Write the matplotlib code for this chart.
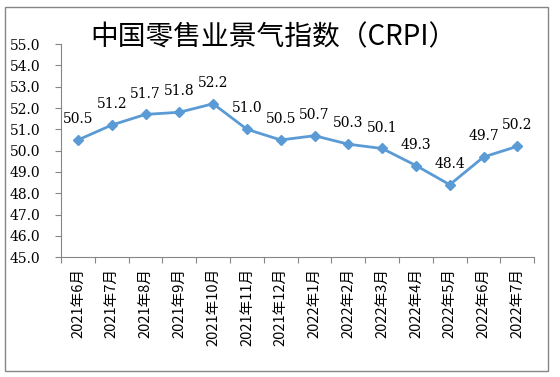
import matplotlib
matplotlib.use('Agg')
import matplotlib.pyplot as plt
from matplotlib.patches import Rectangle

months = ['2021年6月', '2021年7月', '2021年8月', '2021年9月', '2021年10月',
          '2021年11月', '2021年12月', '2022年1月', '2022年2月', '2022年3月',
          '2022年4月', '2022年5月', '2022年6月', '2022年7月']
crpi = [50.5, 51.2, 51.7, 51.8, 52.2, 51.0, 50.5, 50.7, 50.3, 50.1,
        49.3, 48.4, 49.7, 50.2]
yticks = [45.0, 46.0, 47.0, 48.0, 49.0, 50.0, 51.0, 52.0, 53.0, 54.0, 55.0]

plt.rcParams['font.family'] = ['Noto Sans CJK SC', 'DejaVu Sans']
serif = ['DejaVu Serif', 'Noto Sans CJK SC']

fig = plt.figure(figsize=(5.6, 3.77), dpi=100)
ax = fig.add_axes([0.109, 0.318, 0.845, 0.565])

x = list(range(len(crpi)))
ax.plot(x, crpi, color='#5b9bd5', lw=2, marker='D', ms=5, zorder=3)
for xi, v in zip(x, crpi):
    ax.annotate('%.1f' % v, (xi, v), xytext=(0, 10), textcoords='offset points',
                ha='center', va='bottom', fontsize=10, family=serif)

ax.set_xlim(-0.5, len(crpi) - 0.5)
ax.set_ylim(45, 55)
ax.set_yticks(yticks)
ax.set_yticklabels(['%.1f' % t for t in yticks], family=serif, fontsize=10)
ax.set_xticks([i - 0.5 for i in range(len(crpi) + 1)])
ax.set_xticklabels([])
ax.set_xticks(x, minor=True)
ax.set_xticklabels(months, minor=True, rotation=90, fontsize=10.5)
ax.tick_params(axis='x', which='minor', length=0, pad=8)
ax.tick_params(axis='y', pad=11)
ax.tick_params(axis='both', which='major', length=4, color='#868686')
for s in ['top', 'right']:
    ax.spines[s].set_visible(False)
for s in ['left', 'bottom']:
    ax.spines[s].set_color('#868686')

fig.text(0.4875, 0.902, '中国零售业景气指数（CRPI）', ha='center', va='center',
         fontsize=20, family=['Noto Sans CJK SC'])

fig.patches.append(Rectangle((5 / 560, 6 / 377), 543 / 560, 364 / 377,
                             transform=fig.transFigure, fill=False,
                             edgecolor='#868686', lw=1))

fig.savefig('out.png', dpi=100)
